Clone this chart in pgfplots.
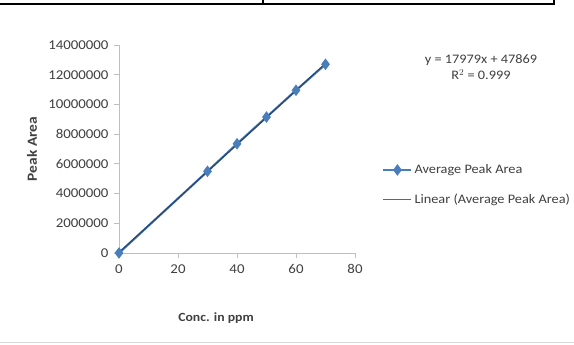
\documentclass[border=0pt]{standalone}
\usepackage{pgfplots}
\usepackage{pgfplotstable}
\pgfplotsset{compat=1.18}
\usepackage{fontspec}
\setmainfont{Carlito}[FakeStretch=1.1]
\definecolor{serblue}{HTML}{4A7EBB}
\definecolor{trend}{HTML}{2B4468}
\definecolor{axgrey}{HTML}{BFBFBF}
\definecolor{txtgrey}{HTML}{404040}
\pgfplotstableread{
x y
0 0
30 5500000
40 7350000
50 9150000
60 10950000
70 12700000
}\datatab
\begin{document}
\begin{tikzpicture}
\useasboundingbox (0pt,0pt) rectangle (574pt,345pt);
\fill[white] (0pt,0pt) rectangle (574pt,345pt);
% table border at top
\draw[black, line width=2.4pt] (0pt,341pt) -- (554pt,341pt);
\draw[black, line width=1.6pt] (263pt,345pt) -- (263pt,340pt);
\draw[black, line width=2.4pt] (554pt,345pt) -- (554pt,340pt);
\draw[axgrey!60, line width=0.6pt] (0pt,3pt) -- (574pt,3pt);
\begin{axis}[
  at={(119pt,92pt)}, anchor=origin,
  scale only axis, width=236pt, height=208pt,
  xmin=0, xmax=80, ymin=0, ymax=14000000,
  xtick={0,20,...,80},
  ytick={0,2000000,...,14000000},
  scaled y ticks=false,
  /pgf/number format/fixed,
  /pgf/number format/1000 sep={},
  /pgf/number format/assume math mode=true,
  axis x line*=bottom, axis y line*=left,
  axis line style={axgrey, line width=0.8pt, -},
  tick style={axgrey, line width=0.8pt},
  tick align=outside, major tick length=5pt,
  ticklabel style={font=\fontsize{13.5}{15}\selectfont, text=txtgrey},
  xticklabel style={yshift=-3pt},
  yticklabel style={xshift=-2pt},
  xlabel={\textbf{Conc. in ppm}},
  ylabel={\textbf{Peak Area}},
  xlabel style={font=\fontsize{12.5}{14}\selectfont, text=txtgrey, at={(axis description cs:0.411,-0.3125)}, anchor=center},
  ylabel style={font=\fontsize{14}{15}\selectfont, text=txtgrey, at={(axis description cs:-0.369,0.5)}, anchor=center},
  clip=false,
  legend style={at={(axis description cs:1.115,0.327)}, anchor=west, draw=none, fill=none,
    font=\fontsize{13}{15}\selectfont, text=txtgrey, row sep=15pt,
    legend cell align=left, inner sep=0pt},
  legend image code/.code={%
    \draw[mark repeat=2,mark phase=2,#1] plot coordinates {(0pt,0pt) (14pt,0pt) (28pt,0pt)};},
]
\addplot[serblue, line width=2.2pt, mark=diamond*, mark size=4pt, mark options={fill=serblue, draw=serblue}] table[x=x,y=y] {\datatab};
\addlegendentry{Average Peak Area}
\addplot[trend, line width=1.1pt, no marks, forget plot] table[x=x, y={create col/linear regression={y=y}}] {\datatab};
\addlegendimage{txtgrey!80, line width=0.8pt}
\addlegendentry{Linear (Average Peak Area)}
\end{axis}
\node[text=txtgrey, font=\fontsize{13}{15}\selectfont, align=center] at (481pt,278pt) {y = 17979x + 47869\\[1pt]R$^{2}$ = 0.999};
\end{tikzpicture}
\end{document}
